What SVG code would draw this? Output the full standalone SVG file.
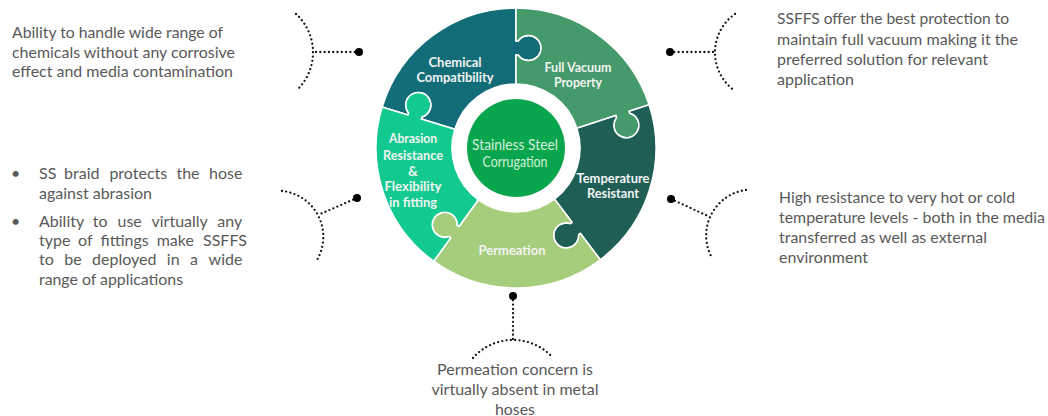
<svg xmlns="http://www.w3.org/2000/svg" width="1048" height="416" viewBox="0 0 1048 416">
<style>
.piece{stroke:#ffffff;stroke-width:1.6;stroke-linejoin:round}
.lbl{font-family:Lato,"Liberation Sans",sans-serif;font-weight:bold;font-size:13.5px;fill:#f4f4f4;text-anchor:middle}
.ctr{font-family:Lato,"Liberation Sans",sans-serif;font-size:14.5px;fill:#d4eed9;text-anchor:middle}
.body{font-family:Lato,"Liberation Sans",sans-serif;font-size:16px;fill:#595959}
.mid{text-anchor:middle}
.dl{fill:none;stroke:#111111;stroke-width:2.3;stroke-linecap:round;stroke-dasharray:0 4.3}
.knob{fill:#000000}
</style>
<rect width="1048" height="416" fill="#ffffff"/>

<g id="chemical">
<path class="piece" fill="#136d78" d="M382.12,107.06 A140,140 0 0 1 516,8 L516,41 L518.14,41 A12.5,12.5 0 1 1 518.14,55 L516,55 L516,84 A64,64 0 0 0 454.80,129.29 L421.33,119.05 L421.96,117.00 A12.5,12.5 0 1 0 408.57,112.91 L407.94,114.96 Z"/>
<text class="lbl" x="455" y="67" textLength="53" lengthAdjust="spacingAndGlyphs">Chemical</text>
<text class="lbl" x="455" y="82" textLength="77" lengthAdjust="spacingAndGlyphs">Compatibility</text>
</g>

<g id="full-vacuum">
<path class="piece" fill="#449a6b" d="M516,8 A140,140 0 0 1 649.15,104.74 L629.18,111.23 L629.84,113.27 A12.5,12.5 0 1 1 616.53,117.59 L615.87,115.55 L576.87,128.22 A64,64 0 0 0 516,84 L516,55 L518.14,55 A12.5,12.5 0 1 0 518.14,41 L516,41 Z"/>
<text class="lbl" x="578" y="72" textLength="67" lengthAdjust="spacingAndGlyphs">Full Vacuum</text>
<text class="lbl" x="578" y="87" textLength="48" lengthAdjust="spacingAndGlyphs">Property</text>
</g>

<g id="temperature">
<path class="piece" fill="#1e5e55" d="M649.15,104.74 A140,140 0 0 1 600.25,259.80 L580.39,233.45 L578.68,234.74 A12.5,12.5 0 1 1 570.26,223.56 L571.97,222.27 L554.52,199.11 A64,64 0 0 0 576.87,128.22 L615.87,115.55 L616.53,117.59 A12.5,12.5 0 1 0 629.84,113.27 L629.18,111.23 Z"/>
<text class="lbl" x="613" y="183" textLength="73" lengthAdjust="spacingAndGlyphs">Temperature</text>
<text class="lbl" x="613" y="198" textLength="52" lengthAdjust="spacingAndGlyphs">Resistant</text>
</g>

<g id="permeation">
<path class="piece" fill="#a5cd7b" d="M600.25,259.80 A140,140 0 0 1 433.71,261.26 L450.75,237.80 L449.02,236.54 A12.5,12.5 0 1 1 457.25,225.21 L458.98,226.47 L478.38,199.78 A64,64 0 0 0 554.52,199.11 L571.97,222.27 L570.26,223.56 A12.5,12.5 0 1 0 578.68,234.74 L580.39,233.45 Z"/>
<text class="lbl" x="512" y="255" textLength="67" lengthAdjust="spacingAndGlyphs">Permeation</text>
</g>

<g id="abrasion">
<path class="piece" fill="#12c98f" d="M433.71,261.26 A140,140 0 0 1 382.12,107.06 L407.94,114.96 L408.57,112.91 A12.5,12.5 0 1 1 421.96,117.00 L421.33,119.05 L454.80,129.29 A64,64 0 0 0 478.38,199.78 L458.98,226.47 L457.25,225.21 A12.5,12.5 0 1 0 449.02,236.54 L450.75,237.80 Z"/>
<text class="lbl" x="413" y="143" textLength="48" lengthAdjust="spacingAndGlyphs">Abrasion</text>
<text class="lbl" x="413" y="160" textLength="60" lengthAdjust="spacingAndGlyphs">Resistance</text>
<text class="lbl" x="413" y="176">&amp;</text>
<text class="lbl" x="413" y="191" textLength="57" lengthAdjust="spacingAndGlyphs">Flexibility</text>
<text class="lbl" x="413" y="207" textLength="48" lengthAdjust="spacingAndGlyphs">in fitting</text>
</g>

<g id="center">
<circle cx="516" cy="148" r="49" fill="#0aa64e"/>
<text class="ctr" x="515" y="150" textLength="86" lengthAdjust="spacingAndGlyphs">Stainless Steel</text>
<text class="ctr" x="515" y="167" textLength="65" lengthAdjust="spacingAndGlyphs">Corrugation</text>
</g>

<g id="text-chemical">
<text class="body" x="12" y="38" textLength="211" lengthAdjust="spacingAndGlyphs">Ability to handle wide range of</text>
<text class="body" x="12" y="58" textLength="223" lengthAdjust="spacingAndGlyphs">chemicals without any corrosive</text>
<text class="body" x="12" y="77" textLength="221" lengthAdjust="spacingAndGlyphs">effect and media contamination</text>
</g>

<g id="text-vacuum">
<text class="body" x="777" y="24" textLength="232" lengthAdjust="spacingAndGlyphs">SSFFS offer the best protection to</text>
<text class="body" x="777" y="45" textLength="241" lengthAdjust="spacingAndGlyphs">maintain full vacuum making it  the</text>
<text class="body" x="777" y="65" textLength="211" lengthAdjust="spacingAndGlyphs">preferred solution for relevant</text>
<text class="body" x="777" y="85" textLength="77" lengthAdjust="spacingAndGlyphs">application</text>
</g>

<g id="text-temperature">
<text class="body" x="779" y="203" textLength="236" lengthAdjust="spacingAndGlyphs">High resistance to very hot or cold</text>
<text class="body" x="779" y="223" textLength="266" lengthAdjust="spacingAndGlyphs">temperature levels - both in the media</text>
<text class="body" x="779" y="243" textLength="208" lengthAdjust="spacingAndGlyphs">transferred as well as external</text>
<text class="body" x="779" y="263" textLength="89" lengthAdjust="spacingAndGlyphs">environment</text>
</g>

<g id="text-abrasion">
<text class="body" x="11" y="179">•</text>
<text class="body" y="179"><tspan x="39">SS</tspan><tspan x="64.1">braid</tspan><tspan x="109.4">protects</tspan><tspan x="176.4">the</tspan><tspan x="209">hose</tspan></text>
<text class="body" x="39" y="199" textLength="113" lengthAdjust="spacingAndGlyphs">against abrasion</text>
<text class="body" x="11" y="227">•</text>
<text class="body" y="227"><tspan x="39">Ability</tspan><tspan x="92.8">to</tspan><tspan x="117.5">use</tspan><tspan x="151.5">virtually</tspan><tspan x="217.3">any</tspan></text>
<text class="body" y="246"><tspan x="39">type</tspan><tspan x="78.1">of</tspan><tspan x="100.5">fittings</tspan><tspan x="156.7">make</tspan><tspan x="203">SSFFS</tspan></text>
<text class="body" y="265"><tspan x="39">to</tspan><tspan x="64.2">be</tspan><tspan x="92">deployed</tspan><tspan x="166.8">in</tspan><tspan x="190.1">a</tspan><tspan x="208.6">wide</tspan></text>
<text class="body" x="39" y="285" textLength="144" lengthAdjust="spacingAndGlyphs">range of applications</text>
</g>

<g id="text-permeation">
<text class="body mid" x="515" y="375" textLength="156" lengthAdjust="spacingAndGlyphs">Permeation concern is</text>
<text class="body mid" x="515" y="395" textLength="167" lengthAdjust="spacingAndGlyphs">virtually absent in metal</text>
<text class="body mid" x="515" y="415" textLength="40" lengthAdjust="spacingAndGlyphs">hoses</text>
</g>

<g id="connectors">
<path class="dl" d="M359,52 L313,52"/>
<path class="dl" d="M296,14 A52,52 0 0 1 297,90"/>
<circle class="knob" cx="359" cy="52" r="4"/>

<path class="dl" d="M670,52 L715,52"/>
<path class="dl" d="M735,14 A47,47 0 0 0 735,91"/>
<circle class="knob" cx="670" cy="52" r="4"/>

<path class="dl" d="M357,198 L318,215"/>
<path class="dl" d="M282,191 A46,46 0 0 1 317,260"/>
<circle class="knob" cx="357" cy="198" r="4"/>

<path class="dl" d="M671,199 L710,217"/>
<path class="dl" d="M746,190 A46,46 0 0 0 712,258"/>
<circle class="knob" cx="671" cy="199" r="4"/>

<path class="dl" d="M513,296 L513,340"/>
<path class="dl" d="M473,358 A53.4,53.4 0 0 1 553,358"/>
<circle class="knob" cx="513" cy="296" r="4"/>
</g>
</svg>
